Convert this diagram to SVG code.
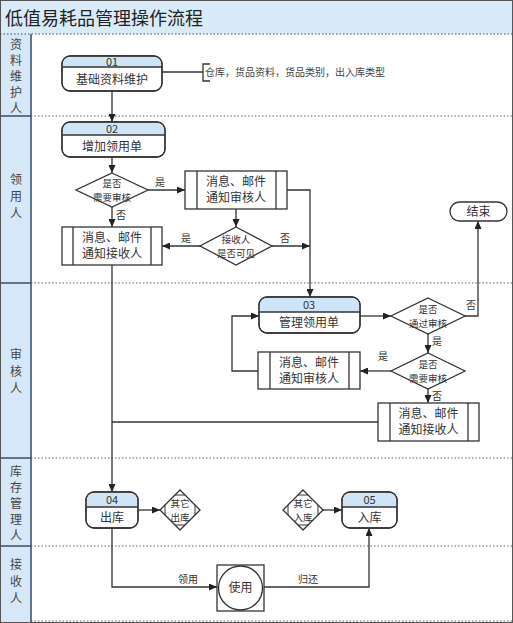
<svg xmlns="http://www.w3.org/2000/svg" width="513" height="623" viewBox="0 0 513 623">
<defs>
<marker id="arr" markerUnits="userSpaceOnUse" markerWidth="8" markerHeight="7" refX="8" refY="3.5" orient="auto">
<path d="M0,0 L8,3.5 L0,7 z" fill="#222"/>
</marker>
</defs>
<style>
text{font-family:"Noto Sans CJK SC","Noto Sans",sans-serif;fill:#333;text-anchor:middle}
.lane{font-size:12px;fill:#444}
.n{font-size:12px}
.h{font-size:11px}
.d{font-size:9.5px}
.lbl{font-size:10px}
.box{fill:#fff;stroke:#333;stroke-width:1.3}
.hdr{fill:#cfe5f7;stroke:none}
.ln{fill:none;stroke:#333;stroke-width:1.3}
.sep{stroke:#666;stroke-width:1;stroke-dasharray:1.5 2}
.col{stroke:#3d5670;stroke-width:1.6}
.c{fill:none;stroke:#333;stroke-width:1.3}
.ca{fill:none;stroke:#333;stroke-width:1.3;marker-end:url(#arr)}
</style>
<rect x="0" y="0" width="513" height="623" fill="#fff"/>
<!-- title -->
<rect x="0" y="0" width="513" height="34" fill="#d9ebf8"/>
<text x="5" y="25" style="font-size:18px;text-anchor:start;fill:#222">低值易耗品管理操作流程</text>
<!-- lane column -->
<rect x="0" y="34" width="31" height="589" fill="#d6e8f7"/>
<g id="lanes">
<line x1="0" y1="34" x2="513" y2="34" class="sep" style="stroke:#444"/>
<line x1="31" y1="116" x2="513" y2="116" class="sep"/>
<line x1="31" y1="283" x2="513" y2="283" class="sep"/>
<line x1="31" y1="458" x2="513" y2="458" class="sep"/>
<line x1="31" y1="546" x2="513" y2="546" class="sep"/>
<line x1="31" y1="621" x2="513" y2="621" class="sep"/>
<line x1="0" y1="116" x2="31" y2="116" class="col"/>
<line x1="0" y1="283" x2="31" y2="283" class="col"/>
<line x1="0" y1="458" x2="31" y2="458" class="col"/>
<line x1="0" y1="546" x2="31" y2="546" class="col"/>
<line x1="31" y1="34" x2="31" y2="623" class="col"/>
<rect x="0.5" y="0.5" width="512" height="622" fill="none" stroke="#555" stroke-width="1"/>
<text class="lane" x="16" y="49">资</text>
<text class="lane" x="16" y="65">料</text>
<text class="lane" x="16" y="81">维</text>
<text class="lane" x="16" y="97">护</text>
<text class="lane" x="16" y="113">人</text>
<text class="lane" x="16" y="184">领</text>
<text class="lane" x="16" y="201">用</text>
<text class="lane" x="16" y="218">人</text>
<text class="lane" x="16" y="359">审</text>
<text class="lane" x="16" y="376">核</text>
<text class="lane" x="16" y="393">人</text>
<text class="lane" x="16" y="476">库</text>
<text class="lane" x="16" y="492">存</text>
<text class="lane" x="16" y="508">管</text>
<text class="lane" x="16" y="524">理</text>
<text class="lane" x="16" y="540">人</text>
<text class="lane" x="16" y="569">接</text>
<text class="lane" x="16" y="586">收</text>
<text class="lane" x="16" y="603">人</text>
</g>
<!-- connectors -->
<g id="connectors">
<path class="ca" d="M112,91 V122"/>
<path class="ca" d="M112,157 V173"/>
<path class="ca" d="M148,190 H185"/>
<path class="ca" d="M112,207 V227"/>
<path class="ca" d="M236,209 V227"/>
<path class="ca" d="M200,246 H162"/>
<path class="ca" d="M272,246 H310"/>
<path class="ca" d="M287,190 H310 V297"/>
<path class="ca" d="M112,265 V492"/>
<path class="ca" d="M360,316 H391"/>
<path class="ca" d="M465,316 H478 V221"/>
<path class="ca" d="M428,334 V353"/>
<path class="ca" d="M391,371 H360"/>
<path class="ca" d="M258,371 H232 V316 H259"/>
<path class="ca" d="M428,389 V403"/>
<path class="c" d="M378,422 H112"/>
<path class="ca" d="M138,510 H160"/>
<path class="ca" d="M323,510 H342"/>
<path class="ca" d="M112,528 V587 H217"/>
<path class="ca" d="M264,587 H369 V528"/>
<path class="c" d="M162,72 H203"/>
<path class="c" d="M210,64 H203 V81 H210"/>
<text class="lbl" x="160" y="186">是</text>
<text class="lbl" x="121" y="219">否</text>
<text class="lbl" x="186" y="242">是</text>
<text class="lbl" x="285" y="242">否</text>
<text class="lbl" x="471" y="309">否</text>
<text class="lbl" x="437" y="345">是</text>
<text class="lbl" x="383" y="360">是</text>
<text class="lbl" x="437" y="400">否</text>
<text class="lbl" x="188" y="583">领用</text>
<text class="lbl" x="308" y="583">归还</text>
</g>
<g id="note">
<text x="205" y="76" style="font-size:10px;text-anchor:start;fill:#444">仓库，货品资料，货品类别，出入库类型</text>
</g>
<!-- nodes with headers -->
<g id="n01">
<rect class="box" x="62" y="56" width="100" height="35" rx="8"/>
<path class="hdr" d="M62.7,67 V64 A7.3,7.3 0 0 1 70,56.7 H154 A7.3,7.3 0 0 1 161.3,64 V67 Z"/>
<rect x="62" y="56" width="100" height="35" rx="8" fill="none" stroke="#333" stroke-width="1.3"/>
<line x1="62" y1="67" x2="162" y2="67" class="ln"/>
<text class="h" x="112" y="65.5">01</text>
<text class="n" x="112" y="84">基础资料维护</text>
</g>
<g id="n02">
<rect class="box" x="62" y="122" width="103" height="35" rx="8"/>
<path class="hdr" d="M62.7,135 V130 A7.3,7.3 0 0 1 70,122.7 H157 A7.3,7.3 0 0 1 164.3,130 V135 Z"/>
<rect x="62" y="122" width="103" height="35" rx="8" fill="none" stroke="#333" stroke-width="1.3"/>
<line x1="62" y1="135" x2="165" y2="135" class="ln"/>
<text class="h" x="112" y="132.5">02</text>
<text class="n" x="112" y="151">增加领用单</text>
</g>
<g id="n03">
<rect class="box" x="259" y="297" width="101" height="36" rx="8"/>
<path class="hdr" d="M259.7,312 V305 A7.3,7.3 0 0 1 267,297.7 H352 A7.3,7.3 0 0 1 359.3,305 V312 Z"/>
<rect x="259" y="297" width="101" height="36" rx="8" fill="none" stroke="#333" stroke-width="1.3"/>
<line x1="259" y1="312" x2="360" y2="312" class="ln"/>
<text class="h" x="309" y="308.5">03</text>
<text class="n" x="309" y="327">管理领用单</text>
</g>
<g id="n04">
<rect class="box" x="86" y="492" width="52" height="36" rx="8"/>
<path class="hdr" d="M86.7,507 V500 A7.3,7.3 0 0 1 94,492.7 H130 A7.3,7.3 0 0 1 137.3,500 V507 Z"/>
<rect x="86" y="492" width="52" height="36" rx="8" fill="none" stroke="#333" stroke-width="1.3"/>
<line x1="86" y1="507" x2="138" y2="507" class="ln"/>
<text class="h" x="112" y="503.5">04</text>
<text class="n" x="112" y="522">出库</text>
</g>
<g id="n05">
<rect class="box" x="342" y="492" width="55" height="36" rx="8"/>
<path class="hdr" d="M342.7,507 V500 A7.3,7.3 0 0 1 350,492.7 H389 A7.3,7.3 0 0 1 396.3,500 V507 Z"/>
<rect x="342" y="492" width="55" height="36" rx="8" fill="none" stroke="#333" stroke-width="1.3"/>
<line x1="342" y1="507" x2="397" y2="507" class="ln"/>
<text class="h" x="369.5" y="503.5">05</text>
<text class="n" x="369.5" y="522">入库</text>
</g>
<!-- process boxes -->
<g id="r1">
<rect class="box" x="185" y="171" width="102" height="38"/>
<line class="ln" x1="197" y1="171" x2="197" y2="209"/>
<line class="ln" x1="276" y1="171" x2="276" y2="209"/>
<text class="n" x="236" y="186">消息、邮件</text>
<text class="n" x="236" y="202">通知审核人</text>
</g>
<g id="r2">
<rect class="box" x="62" y="227" width="100" height="38"/>
<line class="ln" x1="73" y1="227" x2="73" y2="265"/>
<line class="ln" x1="151" y1="227" x2="151" y2="265"/>
<text class="n" x="112" y="242">消息、邮件</text>
<text class="n" x="112" y="258">通知接收人</text>
</g>
<g id="r4">
<rect class="box" x="258" y="352" width="102" height="37"/>
<line class="ln" x1="270" y1="352" x2="270" y2="389"/>
<line class="ln" x1="349" y1="352" x2="349" y2="389"/>
<text class="n" x="309" y="367">消息、邮件</text>
<text class="n" x="309" y="383">通知审核人</text>
</g>
<g id="r5">
<rect class="box" x="378" y="403" width="101" height="38"/>
<line class="ln" x1="390" y1="403" x2="390" y2="441"/>
<line class="ln" x1="468" y1="403" x2="468" y2="441"/>
<text class="n" x="428.5" y="418">消息、邮件</text>
<text class="n" x="428.5" y="434">通知接收人</text>
</g>
<!-- decisions -->
<g id="d1">
<polygon class="box" points="112,173 148,190 112,207 76,190"/>
<text class="d" x="112" y="186.5">是否</text>
<text class="d" x="112" y="200.5">需要审核</text>
</g>
<g id="d2">
<polygon class="box" points="236,227 272,246 236,265 200,246"/>
<text class="d" x="236" y="242.5">接收人</text>
<text class="d" x="236" y="256.5">是否可见</text>
</g>
<g id="d3">
<polygon class="box" points="428,298 465,316 428,334 391,316"/>
<text class="d" x="428" y="312.5">是否</text>
<text class="d" x="428" y="326.5">通过审核</text>
</g>
<g id="d4">
<polygon class="box" points="428,353 465,371 428,389 391,371"/>
<text class="d" x="428" y="367.5">是否</text>
<text class="d" x="428" y="381.5">需要审核</text>
</g>
<g id="g1">
<polygon class="box" points="180,490 200,510 180,530 160,510"/>
<path class="c" d="M175,495 L180,490 L185,495 Z M195,505 L200,510 L195,515 Z M175,525 L180,530 L185,525 Z M165,505 L160,510 L165,515 Z" style="stroke-width:1"/>
<text class="d" x="180" y="506.5">其它</text>
<text class="d" x="180" y="520.5">出库</text>
</g>
<g id="g2">
<polygon class="box" points="303,490 323,510 303,530 283,510"/>
<path class="c" d="M298,495 L303,490 L308,495 Z M318,505 L323,510 L318,515 Z M298,525 L303,530 L308,525 Z M288,505 L283,510 L288,515 Z" style="stroke-width:1"/>
<text class="d" x="303" y="506.5">其它</text>
<text class="d" x="303" y="520.5">入库</text>
</g>
<g id="end">
<rect class="box" x="450" y="202" width="57" height="19" rx="9.5"/>
<text class="n" x="478.5" y="216">结束</text>
</g>
<g id="use">
<rect class="box" x="217" y="565" width="47" height="46"/>
<circle class="box" cx="240.5" cy="588" r="22"/>
<text class="n" x="240.5" y="592">使用</text>
</g>
</svg>
